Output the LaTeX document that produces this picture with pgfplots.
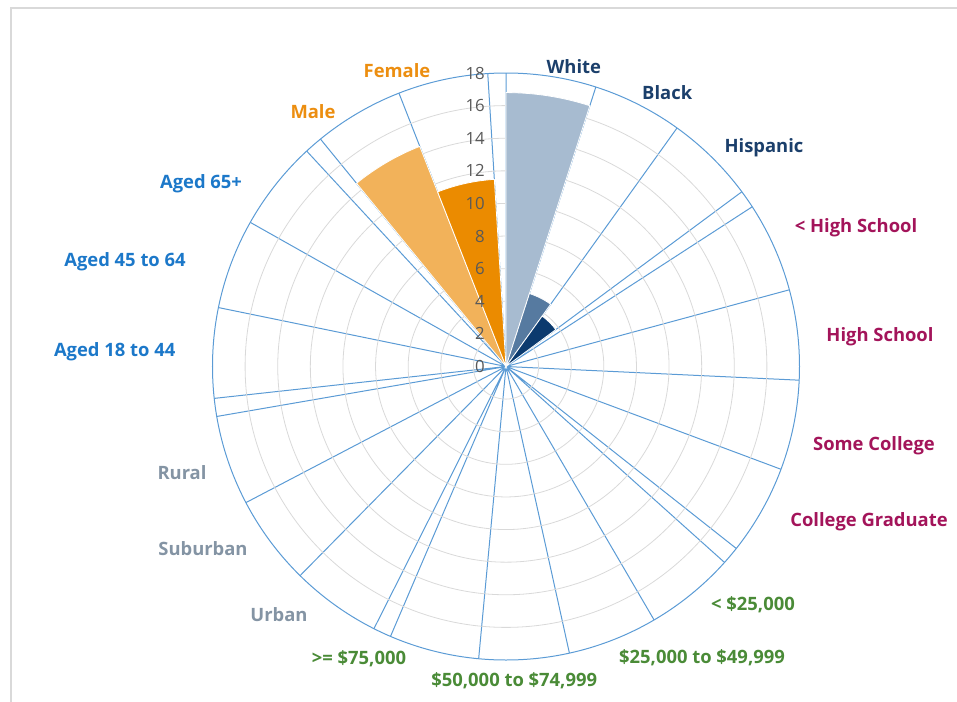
\documentclass[border=0pt]{standalone}
\usepackage{pgfplots}
\pgfplotsset{compat=1.18}
\usepgfplotslibrary{polar}
\usepackage{fontspec}
\setmainfont{Open Sans}

\definecolor{spoke}{HTML}{5B9BD5}
\definecolor{ring}{HTML}{D9D9D9}
\definecolor{ticktext}{HTML}{595959}
\definecolor{barWhite}{HTML}{A7BBD0}
\definecolor{barBlack}{HTML}{567AA0}
\definecolor{barHisp}{HTML}{0B3A6E}
\definecolor{barMale}{HTML}{F2B25A}
\definecolor{barFemale}{HTML}{EB8B00}
\definecolor{cRace}{HTML}{1B3F6B}
\definecolor{cEdu}{HTML}{A3145A}
\definecolor{cInc}{HTML}{4A8B37}
\definecolor{cGeo}{HTML}{8494A4}
\definecolor{cAge}{HTML}{1C78C9}
\definecolor{cSex}{HTML}{EC8E10}

% one wedge: start angle, end angle, value, colour
\newcommand\sector[4]{%
  \xdef\pts{(#1,0)}%
  \foreach \k in {0,...,16}{%
    \pgfmathsetmacro\ang{#1+(#2-#1)*\k/16}%
    \xdef\pts{\pts (\ang,#3)}%
  }%
  \xdef\pts{\pts (#2,0)}%
  \edef\temp{\noexpand\addplot[fill=#4, draw=white, line width=0.6pt] coordinates {\pts} -- cycle;}%
  \temp
}

\begin{document}
\begin{tikzpicture}
\useasboundingbox (0,0) rectangle (717.75pt,-526.5pt);
\draw[ring, line width=0.9pt] (8.25pt,-540pt) -- (8.25pt,-6pt) -- (730pt,-6pt);

\begin{polaraxis}[
  at={(379.5pt,-274.875pt)}, anchor=center,
  width=440.25pt, height=440.25pt, scale only axis,
  xmin=0, xmax=360, ymin=0, ymax=18,
  enlarge y limits=false,
  clip=false,
  % wedge edges: 101 equal steps round the circle, 5 per category, 1 per gap
  xtick={90,72.178218,54.356436,36.534653,32.970297,15.148515,357.326733,
         339.50495,321.68317,318.11881,300.29703,282.47525,264.65347,
         246.83168,243.26733,225.44554,207.62376,189.80198,186.23762,
         168.41584,150.59406,132.77228,129.20792,111.38614,93.56436},
  xticklabels={},
  ytick={2,4,...,16}, yticklabels={},
  major tick length=0pt,
  grid=major,
  major x grid style={spoke, line width=0.75pt},
  major y grid style={ring, line width=0.6pt},
  x axis line style={spoke, line width=0.75pt},
  y axis line style={draw=none},
]
\sector{72.178218}{90}{16.8}{barWhite}
\sector{54.356436}{72.178218}{4.7}{barBlack}
\sector{36.534653}{54.356436}{3.8}{barHisp}
\sector{111.38614}{129.20792}{14.5}{barMale}
\sector{93.56436}{111.38614}{11.5}{barFemale}

\pgfplotsinvokeforeach{0,2,...,18}{%
  \node[anchor=east, inner sep=0pt, text=ticktext,
        font=\fontsize{12.6}{14}\selectfont]
    at ([xshift=-15.75pt]axis cs:90,#1) {#1};
}
\end{polaraxis}

\begin{scope}[x=0.75pt, y=-0.75pt,
  every node/.style={anchor=base, inner sep=0pt,
    font=\bfseries\fontsize{13.8}{16}\selectfont}]
\node[text=cRace] at (573.8,73.3) {White};
\node[text=cRace] at (667.2,99.3) {Black};
\node[text=cRace] at (764,153) {Hispanic};
\node[text=cEdu] at (856,233) {< High School};
\node[text=cEdu] at (880,342) {High School};
\node[text=cEdu] at (874,450) {Some College};
\node[text=cEdu] at (869,526.7) {College Graduate};
\node[text=cInc] at (753,610) {< \$25,000};
\node[text=cInc] at (702,663) {\$25,000 to \$49,999};
\node[text=cInc] at (514.2,686.7) {\$50,000 to \$74,999};
\node[text=cInc] at (359,664) {>= \$75,000};
\node[text=cGeo] at (279,621) {Urban};
\node[text=cGeo] at (203,555) {Suburban};
\node[text=cGeo] at (182,479) {Rural};
\node[text=cAge] at (114.7,356.7) {Aged 18 to 44};
\node[text=cAge] at (125,267) {Aged 45 to 64};
\node[text=cAge] at (201,189) {Aged 65+};
\node[text=cSex] at (313,119) {Male};
\node[text=cSex] at (397,78) {Female};
\end{scope}
\end{tikzpicture}
\end{document}
